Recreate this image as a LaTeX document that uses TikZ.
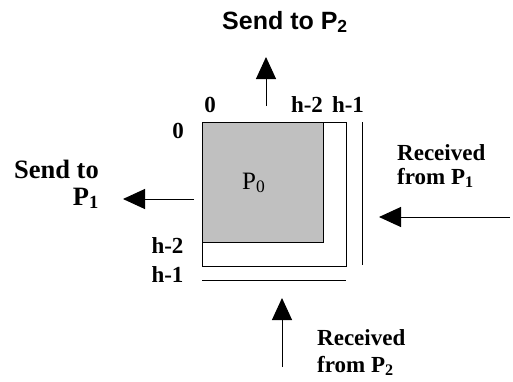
\documentclass[tikz,border=0pt]{standalone}
\usepackage{fontspec}
\setmainfont{Liberation Serif}
\newfontfamily\arialfont{Liberation Sans}
\usetikzlibrary{arrows.meta}
\definecolor{boxgray}{RGB}{192,192,192}
\begin{document}
\begin{tikzpicture}[x=1pt,y=-1pt,
  lbl/.style={font=\fontsize{23}{25}\selectfont\bfseries, inner sep=0pt},
  big/.style={font=\fontsize{26.5}{28}\selectfont\bfseries, inner sep=0pt},
  sans/.style={font=\arialfont\fontsize{25}{27}\selectfont\bfseries, inner sep=0pt},
  arr/.style={line width=1pt, -{Triangle[length=22pt,width=20pt]}},
  ln/.style={line width=1pt}]
\useasboundingbox (0,0) rectangle (513,381);
% blocks
\draw[ln] (202,122) rectangle (346,266);
\draw[ln, fill=boxgray] (202,122) rectangle (323,242);
\coordinate (vt) at (362,122); \coordinate (vb) at (362,265);
\draw[ln] (vt) -- (vb);
\coordinate (hl) at (202,280); \coordinate (hr) at (346,280);
\draw[ln] (hl) -- (hr);
\node[font=\fontsize{25}{27}\selectfont, anchor=base west, inner sep=0pt] (p0) at (242,189) {P\textsubscript{0}};
% arrows
\coordinate (la) at (194,199); \coordinate (lb) at (123,199);
\draw[arr] (la) -- (lb);
\coordinate (ta) at (266,106); \coordinate (tb) at (266,57);
\draw[arr] (ta) -- (tb);
\coordinate (ra) at (510,217); \coordinate (rb) at (379,217);
\draw[arr] (ra) -- (rb);
\coordinate (ba) at (282,367); \coordinate (bb) at (282,298);
\draw[arr] (ba) -- (bb);
% labels
\node[sans, anchor=base west] (s2) at (222,29) {Send to P\textsubscript{2}};
\node[lbl, anchor=base] (c0) at (210,112) {0};
\node[lbl, anchor=base] (c2) at (307,112) {h-2};
\node[lbl, anchor=base] (c1) at (348,112) {h-1};
\node[lbl, anchor=base] (r0) at (178,138) {0};
\node[lbl, anchor=base] (r2) at (167.5,253) {h-2};
\node[lbl, anchor=base] (r1) at (167.5,282) {h-1};
\node[big, anchor=base east] (s1a) at (99,178) {Send to};
\node[big, anchor=base east] (s1b) at (99,205) {P\textsubscript{1}};
\node[lbl, anchor=base west] (rc1a) at (397,160) {Received};
\node[lbl, anchor=base west] (rc1b) at (397,184) {from P\textsubscript{1}};
\node[lbl, anchor=base west] (rc2a) at (317,345) {Received};
\node[lbl, anchor=base west] (rc2b) at (317,372) {from P\textsubscript{2}};
\end{tikzpicture}
\end{document}
